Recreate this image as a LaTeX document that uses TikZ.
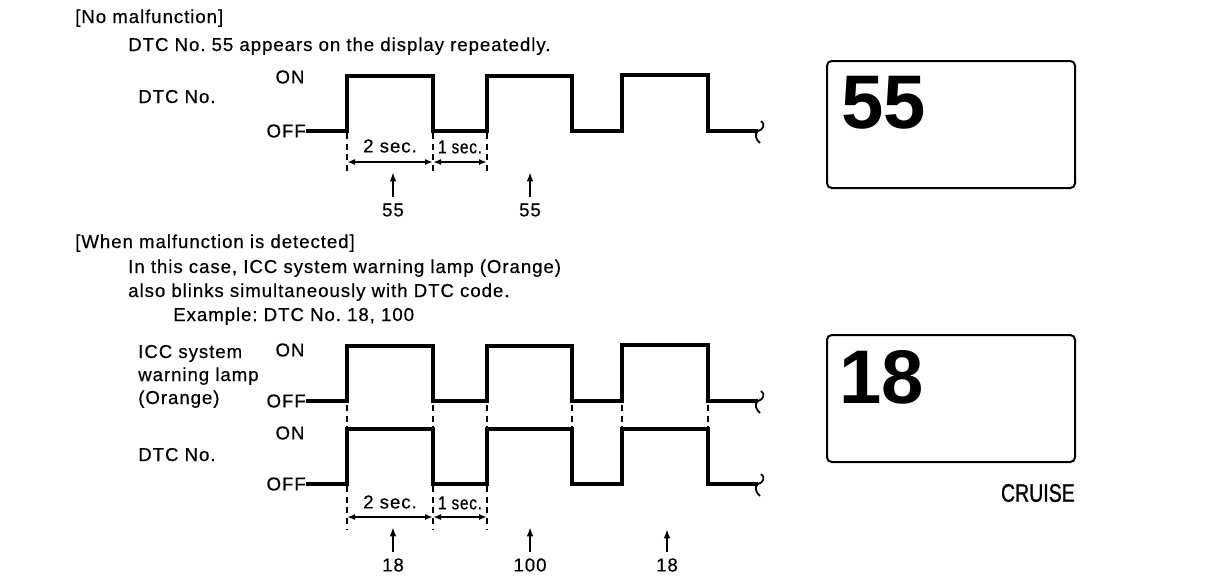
\documentclass[tikz,border=0pt]{standalone}
\usepackage{fontspec}
\usepackage{graphicx}
\setmainfont[LetterSpace=5,FakeBold=0.4]{Liberation Sans}
\newfontfamily\plainsans{Liberation Sans}
\newfontfamily\cruisefont[FakeBold=1.2]{Liberation Sans}
\frenchspacing
\usetikzlibrary{arrows.meta}
\tikzset{
  wave/.style={line width=2.3pt, line join=miter},
  guide/.style={line width=1.5pt, dash pattern=on 4.5pt off 3.5pt},
  dimarr/.style={line width=1.5pt, {Latex[length=6pt,width=4.5pt]}-{Latex[length=6pt,width=4.5pt]}},
  uparr/.style={line width=1.5pt, -{Latex[length=7pt,width=5pt]}},
  brk/.style={line width=1.3pt},
  txt/.style={font=\fontsize{14pt}{16pt}\selectfont, inner sep=0pt, anchor=base west},
  lbl/.style={font=\fontsize{14pt}{16pt}\selectfont, inner sep=0pt},
  dispbox/.style={draw, line width=1.5pt, rounded corners=3.5pt, minimum width=186pt, minimum height=95.25pt, inner sep=0pt},
  bignum/.style={font=\plainsans\bfseries\fontsize{57pt}{60pt}\selectfont, inner sep=0pt, anchor=west},
}
\begin{document}
\begin{tikzpicture}[x=0.75pt,y=-0.75pt]
\useasboundingbox (0,0) rectangle (1216,582);

% ---------- headings ----------
\node[txt] (h1) at (75,23) {[No malfunction]};
\node[txt] (h2) at (128,51) {DTC No. 55 appears on the display repeatedly.};
\node[txt] (h3) at (75,248) {[When malfunction is detected]};
\node[txt] (h4) at (128,273) {In this case, ICC system warning lamp (Orange)};
\node[txt] (h5) at (128,297) {also blinks simultaneously with DTC code.};
\node[txt] (h6) at (173,321) {Example: DTC No. 18, 100};

% ---------- top chart ----------
\node[txt] (dtc1) at (138,103) {DTC No.};
\node[lbl] (on1) at (290,77) {ON};
\node[lbl, anchor=east] (off1) at (306,131) {OFF};
\draw[wave] (off1.east) -- (347,131) -- (347,76) -- (433,76) -- (433,131) -- (487,131) -- (487,76)
  -- (572,76) -- (572,131) -- (622,131) -- (622,75) -- (708,75) -- (708,131) -- (758,131);
\draw[brk] (761,121) .. controls (766,124) and (763,130) .. (758,131) .. controls (754,134) and (756,140) .. (760,143);
\draw[guide] (347,133) -- (347,172);
\draw[guide] (433,133) -- (433,172);
\draw[guide] (487,133) -- (487,172);
\draw[dimarr] (347,162) -- (433,162);
\draw[dimarr] (433,162) -- (487,162);
\node[lbl] (s2a) at (390,146) {2 sec.};
\node[lbl] (s1a) at (460,147) {\scalebox{0.82}[1]{1 sec.}};
\node[lbl] (n55a) at (393,210) {55};
\node[lbl] (n55b) at (530,210) {55};
\coordinate (t55a) at (393,172);
\coordinate (t55b) at (530,172);
\draw[uparr] ([yshift=4.5pt]n55a.north) -- (t55a);
\draw[uparr] ([yshift=4.5pt]n55b.north) -- (t55b);

% display 1
\node[dispbox] (disp1) at (951,124.5) {};
\node[bignum] (big55) at (841,102.5) {55};

% ---------- bottom chart ----------
\node[txt] (icc1) at (138,358) {ICC system};
\node[txt] (icc2) at (138,381) {warning lamp};
\node[txt] (icc3) at (138,404) {(Orange)};
\node[txt] (dtc2) at (138,461) {DTC No.};
\node[lbl] (on2) at (290,350) {ON};
\node[lbl, anchor=east] (off2) at (306,401) {OFF};
\node[lbl] (on3) at (290,433) {ON};
\node[lbl, anchor=east] (off3) at (306,484) {OFF};
\draw[wave] (off2.east) -- (347,401) -- (347,346) -- (433,346) -- (433,401) -- (487,401) -- (487,346)
  -- (572,346) -- (572,401) -- (622,401) -- (622,345) -- (708,345) -- (708,401) -- (758,401);
\draw[wave] (off3.east) -- (347,484) -- (347,429) -- (433,429) -- (433,484) -- (487,484) -- (487,429)
  -- (572,429) -- (572,484) -- (622,484) -- (622,429) -- (708,429) -- (708,484) -- (758,484);
\draw[brk] (761,391) .. controls (766,394) and (763,400) .. (758,401) .. controls (754,404) and (756,410) .. (760,413);
\draw[brk] (761,474) .. controls (766,477) and (763,483) .. (758,484) .. controls (754,487) and (756,493) .. (760,496);
\foreach \xx in {347,433,487,572,622,708}{
  \draw[guide] (\xx,405) -- (\xx,427);
}
\draw[guide] (347,486) -- (347,530);
\draw[guide] (433,486) -- (433,530);
\draw[guide] (487,486) -- (487,530);
\draw[dimarr] (347,517) -- (433,517);
\draw[dimarr] (433,517) -- (487,517);
\node[lbl] (s2b) at (390,502) {2 sec.};
\node[lbl] (s1b) at (460,503) {\scalebox{0.82}[1]{1 sec.}};
\node[lbl] (n18a) at (393,565) {18};
\node[lbl] (n100) at (530,565) {100};
\node[lbl] (n18b) at (667,565) {18};
\coordinate (t18a) at (393,527);
\coordinate (t100) at (530,527);
\coordinate (t18b) at (667,529);
\draw[uparr] ([yshift=4.5pt]n18a.north) -- (t18a);
\draw[uparr] ([yshift=4.5pt]n100.north) -- (t100);
\draw[uparr] ([yshift=4.5pt]n18b.north) -- (t18b);

% display 2
\node[dispbox] (disp2) at (951,398.5) {};
\node[bignum] (big18) at (839,377) {18};
\node[inner sep=0pt, anchor=east, font=\cruisefont\fontsize{19pt}{21pt}\selectfont] (cruise) at (1075,493) {\scalebox{0.77}[1]{CRUISE}};
\end{tikzpicture}
\end{document}
